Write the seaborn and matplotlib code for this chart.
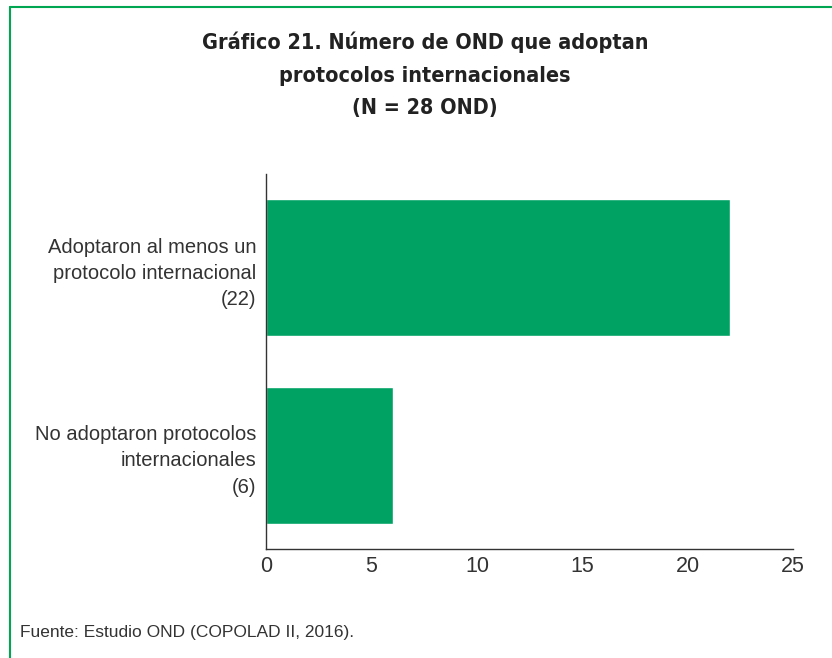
import matplotlib
matplotlib.use("Agg")
import matplotlib.pyplot as plt
import seaborn as sns
import pandas as pd

# Data
categories = ["Adoptaron al menos un\nprotocolo internacional\n(22)",
              "No adoptaron protocolos\ninternacionales\n(6)"]
values = [22, 6]
x_ticks = [0, 5, 10, 15, 20, 25]

title = "Gráfico 21. Número de OND que adoptan\nprotocolos internacionales\n(N = 28 OND)"
source = "Fuente: Estudio OND (COPOLAD II, 2016)."

green = "#00A264"
text_col = "#333333"

sns.set_style("white")
plt.rcParams["font.family"] = ["Liberation Sans", "DejaVu Sans"]

df = pd.DataFrame({"categoria": categories, "valor": values})

fig = plt.figure(figsize=(8.32, 6.58), dpi=100)
ax = fig.add_axes([0.3197, 0.1657, 0.6337, 0.5699])

sns.barplot(data=df, x="valor", y="categoria", color=green, saturation=1,
            width=0.73, ax=ax)

ax.set_xlim(0, 25)
ax.set_ylim(1.5, -0.5)
ax.set_xticks(x_ticks)
ax.set_xlabel("")
ax.set_ylabel("")
ax.tick_params(axis="both", length=0, colors=text_col)
ax.tick_params(axis="x", pad=5, labelsize=15.5)
ax.tick_params(axis="y", pad=7, labelsize=14.5)
for lab in ax.get_yticklabels():
    lab.set_multialignment("right")
    lab.set_linespacing(1.48)
sns.despine(ax=ax)
for s in ["left", "bottom"]:
    ax.spines[s].set_color("#333333")
    ax.spines[s].set_linewidth(1.0)

fig.text(0.511, 0.952, title, ha="center", va="top", fontsize=15.5,
         fontweight="bold", fontstretch="condensed", color="#222222",
         linespacing=1.78, family=["DejaVu Sans"])
fig.text(0.024, 0.039, source, ha="left", va="center", fontsize=12.5,
         color=text_col)

# green frame lines (top and left)
fig.add_artist(plt.Line2D([0.012, 1.0], [0.990, 0.990], color="#00A651", lw=1.5,
                          transform=fig.transFigure))
fig.add_artist(plt.Line2D([0.012, 0.012], [0.0, 0.990], color="#00A651", lw=1.5,
                          transform=fig.transFigure))

fig.savefig("out.png", dpi=100)
